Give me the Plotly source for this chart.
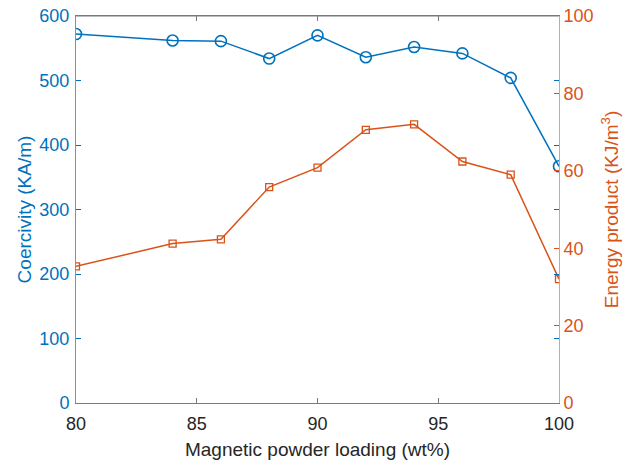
import plotly.graph_objects as go

# Magnetic powder loading (wt%)
loading = [80, 84, 86, 88, 90, 92, 94, 96, 98, 100]
# Coercivity (KA/m), left axis
coercivity = [572, 562, 561, 534, 570, 536, 552, 542, 504, 367]
# Energy product (KJ/m^3), right axis
energy_product = [35.3, 41.2, 42.3, 55.8, 60.8, 70.6, 72.0, 62.4, 59.0, 32.0]

x_ticks = [80, 85, 90, 95, 100]
left_ticks = [0, 100, 200, 300, 400, 500, 600]
right_ticks = [0, 20, 40, 60, 80, 100]

BLUE = "#0072BD"
ORANGE = "#D95319"
FONT = "Liberation Sans, Arial, sans-serif"

fig = go.Figure()
fig.add_trace(go.Scatter(
    x=loading, y=coercivity, mode="lines+markers", yaxis="y",
    line=dict(color=BLUE, width=1.5),
    marker=dict(symbol="circle-open", size=11, color=BLUE, line=dict(width=1.6)),
    showlegend=False,
))
fig.add_trace(go.Scatter(
    x=loading, y=energy_product, mode="lines+markers", yaxis="y2",
    line=dict(color=ORANGE, width=1.5),
    marker=dict(symbol="square-open", size=7, color=ORANGE, line=dict(width=1.3)),
    showlegend=False,
))

fig.update_layout(
    width=637, height=463,
    margin=dict(l=76, r=78, t=16, b=60),
    paper_bgcolor="white", plot_bgcolor="white",
    font=dict(family=FONT, size=18, color="#262626"),
    xaxis=dict(
        range=[80, 100], tickvals=x_ticks, ticks="inside", ticklen=5,
        tickcolor="#7a7a7a", showline=True, linecolor="#7a7a7a", linewidth=1,
        mirror="ticks", showgrid=False, zeroline=False, ticklabelstandoff=4,
        automargin=False,
        tickfont=dict(size=18, color="#262626"),
        title=dict(text="Magnetic powder loading (wt%)", font=dict(size=19, color="#262626"), standoff=10),
    ),
    yaxis=dict(
        range=[0, 600], tickvals=left_ticks, ticks="inside", ticklen=5,
        tickcolor=BLUE, showline=True, linecolor="#5b9ccb", linewidth=1,
        mirror="ticks", showgrid=False, zeroline=False, ticklabelstandoff=2,
        automargin=False,
        tickfont=dict(size=18, color=BLUE),
        title=dict(text="Coercivity (KA/m)", font=dict(size=19, color=BLUE), standoff=2),
    ),
    yaxis2=dict(
        range=[0, 100], tickvals=right_ticks, ticks="inside", ticklen=5,
        tickcolor=ORANGE, showline=True, linecolor="#e0a07f", linewidth=1,
        overlaying="y", side="right", showgrid=False, zeroline=False,
        automargin=False,
        tickfont=dict(size=18, color=ORANGE),
        title=dict(text="Energy product (KJ/m<sup>3</sup>)", font=dict(size=19, color=ORANGE), standoff=12),
    ),
)

# Gray top border of the plot box
fig.add_shape(type="line", xref="paper", yref="paper", x0=0, x1=1, y0=1, y1=1,
              line=dict(color="#7a7a7a", width=1))

fig.write_html("out.html")
